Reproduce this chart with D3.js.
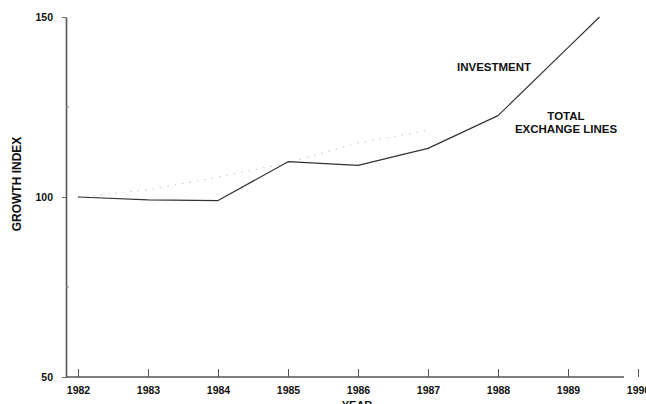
<!DOCTYPE html>
<html>
<head>
<meta charset="utf-8">
<script src="https://cdn.jsdelivr.net/npm/d3@7"></script>
<style>
  html, body { margin: 0; padding: 0; background: #fff; }
  svg { display: block; }
  text { font-family: "Liberation Sans", Arial, sans-serif; font-weight: bold; fill: #111; }
</style>
</head>
<body>
<svg id="chart" width="646" height="404"></svg>
<script>
// Growth index, 1982 = 100
const years = [1982, 1983, 1984, 1985, 1986, 1987, 1988, 1989, 1989.45];
const investment = [100, 99.2, 99, 109.8, 108.8, 113.5, 122.6, 141.5, 150];

// Total exchange lines (faint dotted trace)
const linesYears = [1982, 1983, 1984, 1985, 1986, 1987];
const exchangeLines = [100, 102, 105.5, 109.5, 115, 118.5];

const xTicks = [1982, 1983, 1984, 1985, 1986, 1987, 1988, 1989, 1990];
const yTicks = [50, 100, 150];
const yMinorTicks = [75, 125];

const svg = d3.select("#chart");

const x = d3.scaleLinear().domain([1982, 1990]).range([78, 638]);
const y = d3.scaleLinear().domain([50, 150]).range([377, 17]);
const x0 = 66;

// Axes
const xAxis = d3.axisBottom(x)
  .tickValues(xTicks)
  .tickFormat(d3.format("d"))
  .tickSizeInner(-8)
  .tickSizeOuter(0)
  .tickPadding(10);

const gx = svg.append("g")
  .attr("transform", `translate(0,${y(50)})`)
  .call(xAxis);
gx.select(".domain").remove();
gx.selectAll(".tick line").attr("stroke", "#555").attr("stroke-width", 1);
gx.selectAll(".tick text").attr("font-size", 10.5).attr("fill", "#111")
  .style("font-family", "'Liberation Sans', Arial, sans-serif").style("font-weight", "bold");

svg.append("line")
  .attr("x1", x0).attr("x2", 624)
  .attr("y1", y(50)).attr("y2", y(50))
  .attr("stroke", "#555").attr("stroke-width", 1.4);

const yAxis = d3.axisLeft(y)
  .tickValues(yTicks)
  .tickFormat(d3.format("d"))
  .tickSizeInner(4)
  .tickSizeOuter(0)
  .tickPadding(9);

const gy = svg.append("g")
  .attr("transform", `translate(${x0},0)`)
  .call(yAxis);
gy.select(".domain").attr("stroke", "#555").attr("stroke-width", 1.6);
gy.selectAll(".tick line").attr("stroke", "#666");
gy.selectAll(".tick text").attr("font-size", 10.5).attr("fill", "#111")
  .style("font-family", "'Liberation Sans', Arial, sans-serif").style("font-weight", "bold");

svg.append("g").selectAll("line").data(yMinorTicks).join("line")
  .attr("x1", x0).attr("x2", x0 + 3)
  .attr("y1", d => y(d)).attr("y2", d => y(d))
  .attr("stroke", "#888");

// Faint dotted series
svg.append("path")
  .datum(linesYears.map((d, i) => [d, exchangeLines[i]]))
  .attr("fill", "none")
  .attr("stroke", "#d0d0d0")
  .attr("stroke-width", 1.2)
  .attr("stroke-dasharray", "1.5,6")
  .attr("d", d3.line().x(d => x(d[0])).y(d => y(d[1])));

// Investment line
svg.append("path")
  .datum(years.map((d, i) => [d, investment[i]]))
  .attr("fill", "none")
  .attr("stroke", "#333")
  .attr("stroke-width", 1.2)
  .attr("stroke-linejoin", "round")
  .attr("d", d3.line().x(d => x(d[0])).y(d => y(d[1])));

// Labels
svg.append("text")
  .attr("transform", `translate(21,${184}) rotate(-90)`)
  .attr("text-anchor", "middle")
  .attr("font-size", 12)
  .text("GROWTH INDEX");

svg.append("text")
  .attr("x", 357).attr("y", 409)
  .attr("text-anchor", "middle")
  .attr("font-size", 11)
  .text("YEAR");

svg.append("text")
  .attr("x", 457).attr("y", 71)
  .attr("font-size", 11.5)
  .text("INVESTMENT");

svg.append("text")
  .attr("x", 566).attr("y", 120)
  .attr("text-anchor", "middle")
  .attr("font-size", 11.5)
  .text("TOTAL");

svg.append("text")
  .attr("x", 566).attr("y", 133)
  .attr("text-anchor", "middle")
  .attr("font-size", 11.5)
  .text("EXCHANGE LINES");
</script>
</body>
</html>
